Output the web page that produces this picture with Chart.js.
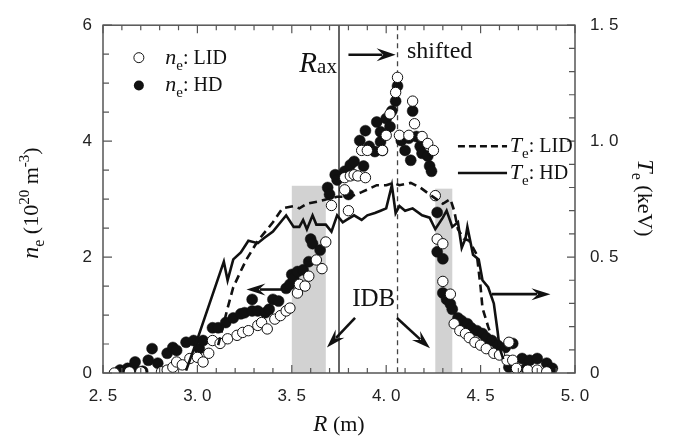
<!DOCTYPE html>
<html>
<head>
<meta charset="utf-8">
<script src="https://cdn.jsdelivr.net/npm/chart.js@4.4.1/dist/chart.umd.min.js"></script>
<style>
html, body { margin: 0; padding: 0; background: #fff; }
#wrap { width: 673px; height: 438px; }
</style>
</head>
<body>
<div id="wrap"><canvas id="c" width="673" height="438"></canvas></div>
<script>
"use strict";

// n_e, LID (open circles)
var lidR = [2.56,2.64,2.70,2.81,2.84,2.87,2.89,2.92,2.96,3.00,3.03,3.06,3.08,3.12,3.16,3.21,3.24,3.27,3.32,3.34,3.37,3.41,3.44,3.47,3.49,3.53,3.54,3.57,3.59,3.63,3.66,3.68,3.71,3.78,3.78,3.80,3.81,3.83,3.85,3.89,3.87,3.90,3.98,4.00,4.02,4.05,4.06,4.07,4.12,4.14,4.15,4.19,4.22,4.25,4.26,4.27,4.30,4.30,4.34,4.36,4.39,4.42,4.44,4.47,4.50,4.53,4.57,4.60,4.64,4.65,4.67,4.69,4.75,4.80,4.85];
var lidNe = [0.00,0.02,0.02,0.02,0.05,0.10,0.19,0.14,0.25,0.27,0.19,0.34,0.56,0.51,0.59,0.65,0.70,0.73,0.82,0.87,0.76,0.93,0.99,1.07,1.12,1.38,1.53,1.50,1.67,1.95,1.80,2.26,2.89,3.16,3.37,2.80,3.40,3.42,3.40,3.37,3.84,3.84,3.84,4.10,4.47,4.84,5.10,4.10,4.10,4.69,4.30,4.08,3.96,3.84,3.06,2.31,2.23,1.58,1.36,0.85,0.73,0.68,0.61,0.53,0.48,0.42,0.34,0.31,0.22,0.53,0.22,0.08,0.05,0.05,0.02];

// n_e, HD (filled circles)
var hdR = [2.59,2.63,2.66,2.67,2.71,2.74,2.76,2.79,2.84,2.87,2.89,2.94,2.98,3.01,3.03,3.08,3.11,3.15,3.19,3.23,3.25,3.29,3.29,3.32,3.36,3.38,3.40,3.43,3.47,3.49,3.50,3.51,3.53,3.56,3.59,3.60,3.61,3.65,3.69,3.70,3.73,3.74,3.78,3.80,3.81,3.83,3.86,3.88,3.89,3.91,3.94,3.95,3.97,3.97,3.98,4.00,4.02,4.03,4.05,4.06,4.08,4.10,4.12,4.13,4.14,4.16,4.18,4.19,4.22,4.23,4.24,4.27,4.27,4.30,4.30,4.32,4.34,4.35,4.38,4.40,4.43,4.45,4.48,4.51,4.53,4.56,4.59,4.63,4.65,4.67,4.72,4.74,4.76,4.80,4.85,4.88];
var hdNe = [0.05,0.08,0.10,0.19,0.03,0.22,0.42,0.17,0.34,0.44,0.39,0.53,0.56,0.42,0.56,0.78,0.78,0.87,0.95,1.02,1.04,1.27,1.07,1.07,1.04,1.10,1.27,1.24,1.46,1.53,1.70,1.63,1.75,1.78,1.92,2.31,2.23,2.12,3.20,3.08,3.42,3.33,3.48,3.08,3.59,3.65,4.01,3.57,4.18,3.91,3.82,4.33,4.16,3.99,3.84,4.39,4.25,4.52,4.69,4.95,4.01,3.84,4.05,3.67,4.52,4.08,3.91,3.79,3.74,3.57,3.48,2.77,2.09,1.97,1.38,1.27,1.19,1.10,0.95,0.90,0.85,0.78,0.73,0.68,0.61,0.56,0.48,0.44,0.10,0.51,0.25,0.08,0.22,0.25,0.17,0.08];

// T_e, LID (dashed) and HD (solid), keV
var teLidR = [3.11,3.16,3.19,3.23,3.26,3.32,3.35,3.40,3.45,3.51,3.54,3.58,3.64,3.69,3.74,3.81,3.87,3.95,4.00,4.04,4.07,4.13,4.18,4.23,4.30,4.34,4.36,4.38,4.41,4.44,4.48,4.50,4.51,4.54,4.57,4.59];
var teLid = [0.12,0.28,0.37,0.44,0.49,0.57,0.60,0.65,0.71,0.72,0.71,0.73,0.74,0.75,0.76,0.76,0.78,0.81,0.81,0.82,0.81,0.82,0.80,0.77,0.73,0.75,0.70,0.62,0.58,0.57,0.51,0.37,0.28,0.20,0.13,0.10];
var teHdR = [2.94,3.01,3.14,3.16,3.19,3.23,3.27,3.32,3.35,3.40,3.45,3.47,3.51,3.54,3.56,3.58,3.61,3.63,3.65,3.68,3.71,3.74,3.77,3.79,3.83,3.87,3.90,3.94,3.97,4.00,4.03,4.05,4.07,4.10,4.14,4.19,4.23,4.26,4.30,4.32,4.35,4.38,4.40,4.42,4.43,4.46,4.49,4.51,4.54,4.57,4.59,4.60,4.62];
var teHd = [0.01,0.17,0.48,0.40,0.49,0.52,0.57,0.56,0.58,0.61,0.66,0.68,0.63,0.63,0.66,0.62,0.68,0.64,0.64,0.64,0.61,0.68,0.65,0.66,0.68,0.66,0.68,0.69,0.70,0.71,0.81,0.69,0.72,0.70,0.71,0.68,0.67,0.62,0.67,0.70,0.63,0.65,0.54,0.58,0.63,0.51,0.49,0.40,0.37,0.30,0.18,0.11,0.06];

// IDB bands (R range, top in n_e units), axis and shifted axis
var idbBands = [[3.50, 3.68, 3.23], [4.26, 4.35, 3.18]];
var rAxis = 3.75;
var rShifted = 4.06;

var SERIF = '"Liberation Serif", "DejaVu Serif", serif';
var SANS = '"Liberation Sans", Arial, sans-serif';

function toPoints(xs, ys) {
    return xs.map(function(x, i) {
        return { x: x, y: ys[i] };
    });
}

function isMult(v, step) {
    var q = v / step;
    return Math.abs(q - Math.round(q)) < 1e-6;
}

function spaced(v) {
    return v.toFixed(1).replace('.', '. ');
}

// draws mixed italic / sub / superscript text, returns end x
function rich(ctx, parts, x, y, measureOnly) {
    parts.forEach(function(p) {
        ctx.font = (p.it ? 'italic ' : '') + p.s + 'px ' + SERIF;
        if (!measureOnly) {
            ctx.fillText(p.t, x, y + (p.dy || 0));
        }
        x += ctx.measureText(p.t).width;
    });
    return x;
}

function arrow(ctx, x1, y1, x2, y2, head, w) {
    var a = Math.atan2(y2 - y1, x2 - x1);
    var c = Math.cos(a), s = Math.sin(a);
    ctx.beginPath();
    ctx.moveTo(x1, y1);
    ctx.lineTo(x2 - head * 0.7 * c, y2 - head * 0.7 * s);
    ctx.stroke();
    ctx.beginPath();
    ctx.moveTo(x2, y2);
    ctx.lineTo(x2 - head * c + w * s, y2 - head * s - w * c);
    ctx.lineTo(x2 - head * 0.65 * c, y2 - head * 0.65 * s);
    ctx.lineTo(x2 - head * c - w * s, y2 - head * s + w * c);
    ctx.closePath();
    ctx.fill();
}

var backPlugin = {
    id: 'back',
    beforeDatasetsDraw: function(chart) {
        var ctx = chart.ctx, a = chart.chartArea;
        var x = chart.scales.x, y = chart.scales.y;
        ctx.save();
        ctx.fillStyle = '#d2d2d2';
        idbBands.forEach(function(b) {
            var x1 = x.getPixelForValue(b[0]), x2 = x.getPixelForValue(b[1]);
            var yt = y.getPixelForValue(b[2]);
            ctx.fillRect(x1, yt, x2 - x1, a.bottom - yt);
        });
        ctx.strokeStyle = '#111';
        ctx.lineWidth = 1.3;
        var xa = x.getPixelForValue(rAxis);
        ctx.beginPath();
        ctx.moveTo(xa, a.top);
        ctx.lineTo(xa, a.bottom);
        ctx.stroke();
        ctx.strokeStyle = '#444';
        ctx.setLineDash([5, 4]);
        var xs = x.getPixelForValue(rShifted);
        ctx.beginPath();
        ctx.moveTo(xs, a.top);
        ctx.lineTo(xs, a.bottom);
        ctx.stroke();
        ctx.restore();
    }
};

var frontPlugin = {
    id: 'front',
    afterDraw: function(chart) {
        var ctx = chart.ctx, a = chart.chartArea;
        var x = chart.scales.x, y = chart.scales.y, y2 = chart.scales.y2;
        ctx.save();

        // frame and inward ticks
        ctx.strokeStyle = '#555';
        ctx.lineWidth = 1.5;
        ctx.strokeRect(a.left, a.top, a.right - a.left, a.bottom - a.top);
        ctx.lineWidth = 1.2;
        ctx.beginPath();
        x.ticks.forEach(function(t) {
            var p = x.getPixelForValue(t.value);
            var len = isMult(t.value, 0.5) ? 8 : 5;
            ctx.moveTo(p, a.bottom); ctx.lineTo(p, a.bottom - len);
            ctx.moveTo(p, a.top); ctx.lineTo(p, a.top + len);
        });
        y.ticks.forEach(function(t) {
            var p = y.getPixelForValue(t.value);
            var len = isMult(t.value, 2) ? 9 : 6;
            ctx.moveTo(a.left, p); ctx.lineTo(a.left + len, p);
        });
        y2.ticks.forEach(function(t) {
            var p = y2.getPixelForValue(t.value);
            var len = isMult(t.value, 0.5) ? 8 : 6;
            ctx.moveTo(a.right, p); ctx.lineTo(a.right - len, p);
        });
        ctx.stroke();

        ctx.fillStyle = '#111';
        ctx.strokeStyle = '#111';
        ctx.textBaseline = 'alphabetic';

        // axis titles
        var bottomParts = [{ t: 'R', s: 23, it: true }, { t: ' (m)', s: 22 }];
        var w = rich(ctx, bottomParts, 0, 0, true);
        rich(ctx, bottomParts, (a.left + a.right) / 2 - w / 2, 431);

        var leftParts = [
            { t: 'n', s: 24, it: true }, { t: 'e', s: 16, dy: 6 },
            { t: ' (10', s: 22 }, { t: '20', s: 15, dy: -9 },
            { t: ' m', s: 22 }, { t: '-3', s: 15, dy: -9 }, { t: ')', s: 22 }
        ];
        w = rich(ctx, leftParts, 0, 0, true);
        ctx.save();
        ctx.translate(38, (a.top + a.bottom) / 2 + 4);
        ctx.rotate(-Math.PI / 2);
        rich(ctx, leftParts, -w / 2, 0);
        ctx.restore();

        var rightParts = [
            { t: 'T', s: 24, it: true }, { t: 'e', s: 16, dy: 6 }, { t: ' (keV)', s: 22 }
        ];
        w = rich(ctx, rightParts, 0, 0, true);
        ctx.save();
        ctx.translate(638, 198);
        ctx.rotate(Math.PI / 2);
        rich(ctx, rightParts, -w / 2, 0);
        ctx.restore();

        // legend, n_e
        var lx = x.getPixelForValue(2.69);
        var l1 = y.getPixelForValue(5.44), l2 = y.getPixelForValue(4.96);
        ctx.lineWidth = 1;
        ctx.beginPath(); ctx.arc(lx, l1, 5, 0, Math.PI * 2);
        ctx.fillStyle = '#fff'; ctx.fill(); ctx.stroke();
        ctx.beginPath(); ctx.arc(lx, l2, 5, 0, Math.PI * 2);
        ctx.fillStyle = '#111'; ctx.fill();
        var tx = x.getPixelForValue(2.83);
        rich(ctx, [{ t: 'n', s: 22, it: true }, { t: 'e', s: 15, dy: 6 }, { t: ': LID', s: 20 }], tx, l1 + 6);
        rich(ctx, [{ t: 'n', s: 22, it: true }, { t: 'e', s: 15, dy: 6 }, { t: ': HD', s: 20 }], tx, l2 + 6);

        // legend, T_e
        var d1 = y.getPixelForValue(3.91), d2 = y.getPixelForValue(3.45);
        var dx1 = x.getPixelForValue(4.38), dx2 = x.getPixelForValue(4.64);
        ctx.lineWidth = 2.5;
        ctx.setLineDash([7, 4]);
        ctx.beginPath(); ctx.moveTo(dx1, d1); ctx.lineTo(dx2, d1); ctx.stroke();
        ctx.setLineDash([]);
        ctx.beginPath(); ctx.moveTo(dx1, d2); ctx.lineTo(dx2, d2); ctx.stroke();
        var tx2 = x.getPixelForValue(4.655);
        rich(ctx, [{ t: 'T', s: 22, it: true }, { t: 'e', s: 15, dy: 6 }, { t: ': LID', s: 20 }], tx2, d1 + 6);
        rich(ctx, [{ t: 'T', s: 22, it: true }, { t: 'e', s: 15, dy: 6 }, { t: ': HD', s: 20 }], tx2, d2 + 6);

        // R_ax, shifted, IDB
        rich(ctx, [{ t: 'R', s: 29, it: true }, { t: 'ax', s: 21, dy: 1 }], x.getPixelForValue(3.54), y.getPixelForValue(5.2));
        rich(ctx, [{ t: 'shifted', s: 24 }], x.getPixelForValue(4.11), y.getPixelForValue(5.44));
        rich(ctx, [{ t: 'IDB', s: 25 }], x.getPixelForValue(3.82), y.getPixelForValue(1.16));

        // arrows
        ctx.lineWidth = 2.6;
        arrow(ctx, x.getPixelForValue(3.80), y.getPixelForValue(5.49), x.getPixelForValue(4.05), y.getPixelForValue(5.49), 19, 6.5);
        arrow(ctx, x.getPixelForValue(3.45), y.getPixelForValue(1.44), x.getPixelForValue(3.26), y.getPixelForValue(1.44), 19, 6);
        arrow(ctx, x.getPixelForValue(4.56), y.getPixelForValue(1.36), x.getPixelForValue(4.87), y.getPixelForValue(1.36), 19, 6);
        arrow(ctx, x.getPixelForValue(3.835), y.getPixelForValue(0.95), x.getPixelForValue(3.686), y.getPixelForValue(0.44), 19, 6);
        arrow(ctx, x.getPixelForValue(4.057), y.getPixelForValue(0.95), x.getPixelForValue(4.232), y.getPixelForValue(0.425), 19, 6);

        ctx.restore();
    }
};

var tickFont = { family: SANS, size: 17 };

var chart = new Chart(document.getElementById('c'), {
    type: 'scatter',
    data: {
        datasets: [
            {
                label: 'Te LID',
                data: toPoints(teLidR, teLid),
                yAxisID: 'y2',
                showLine: true,
                borderColor: '#111',
                borderWidth: 2.6,
                borderDash: [8, 5],
                pointRadius: 0,
                order: 0
            },
            {
                label: 'Te HD',
                data: toPoints(teHdR, teHd),
                yAxisID: 'y2',
                showLine: true,
                borderColor: '#111',
                borderWidth: 2.6,
                pointRadius: 0,
                order: 0
            },
            {
                label: 'ne HD',
                data: toPoints(hdR, hdNe),
                yAxisID: 'y',
                pointRadius: 5.5,
                pointBackgroundColor: '#111',
                pointBorderColor: '#111',
                pointBorderWidth: 0.5,
                order: 2
            },
            {
                label: 'ne LID',
                data: toPoints(lidR, lidNe),
                yAxisID: 'y',
                pointRadius: 5.2,
                pointBackgroundColor: '#fff',
                pointBorderColor: '#111',
                pointBorderWidth: 1,
                order: 1
            }
        ]
    },
    options: {
        responsive: false,
        animation: false,
        devicePixelRatio: 1,
        layout: { padding: { top: 20, left: 0, right: 0, bottom: 0 } },
        plugins: {
            legend: { display: false },
            tooltip: { enabled: false }
        },
        scales: {
            x: {
                type: 'linear',
                min: 2.5,
                max: 5.0,
                grid: { display: false, drawTicks: false },
                border: { display: false },
                ticks: {
                    stepSize: 0.1,
                    autoSkip: false,
                    maxRotation: 0,
                    padding: 13,
                    color: '#222',
                    font: tickFont,
                    callback: function(v) {
                        return isMult(v, 0.5) ? spaced(v) : '';
                    }
                },
                afterFit: function(s) { s.height = 65; }
            },
            y: {
                type: 'linear',
                position: 'left',
                min: 0,
                max: 6,
                grid: { display: false, drawTicks: false },
                border: { display: false },
                ticks: {
                    stepSize: 0.5,
                    autoSkip: false,
                    padding: 11,
                    color: '#222',
                    font: tickFont,
                    callback: function(v) {
                        return isMult(v, 2) ? String(Math.round(v)) : '';
                    }
                },
                afterFit: function(s) { s.width = 103; }
            },
            y2: {
                type: 'linear',
                position: 'right',
                min: 0,
                max: 1.5,
                grid: { display: false, drawTicks: false },
                border: { display: false },
                ticks: {
                    stepSize: 0.1,
                    autoSkip: false,
                    padding: 15,
                    color: '#222',
                    font: tickFont,
                    callback: function(v) {
                        if (Math.abs(v) < 1e-6) {
                            return '0';
                        }
                        return isMult(v, 0.5) ? spaced(v) : '';
                    }
                },
                afterFit: function(s) { s.width = 98; }
            }
        }
    },
    plugins: [backPlugin, frontPlugin]
});
</script>
</body>
</html>
